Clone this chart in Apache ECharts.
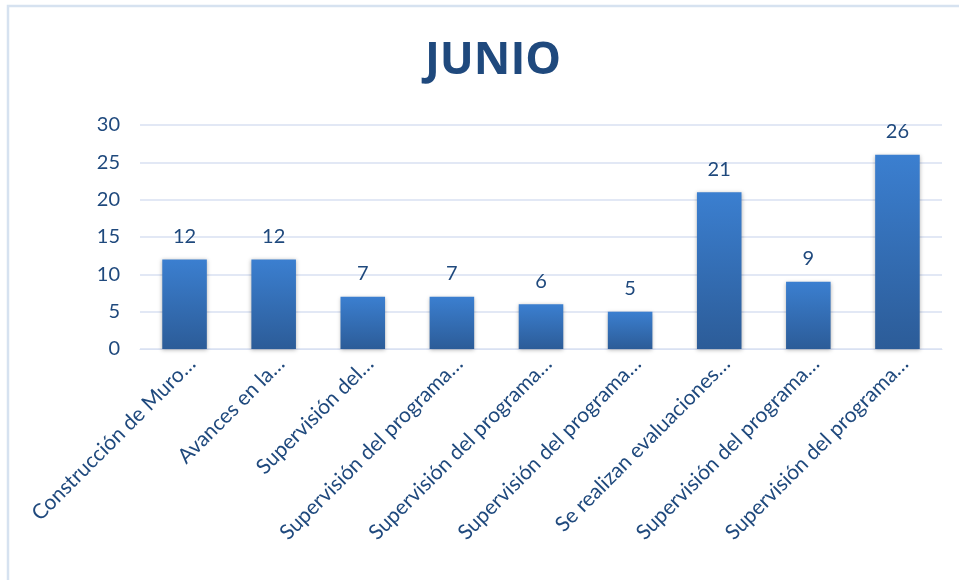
<!DOCTYPE html>
<html><head><meta charset="utf-8">
<script src="https://cdn.jsdelivr.net/npm/echarts@6/dist/echarts.min.js"></script>
<style>html,body{margin:0;padding:0;background:#fff;}#c{width:959px;height:580px;}</style>
</head><body><div id="c"></div>
<script>
const categories = ["Construcción de Muro…","Avances en la…","Supervisión del…","Supervisión del programa…","Supervisión del programa…","Supervisión del programa…","Se realizan evaluaciones…","Supervisión del programa…","Supervisión del programa…"];
const values = [12,12,7,7,6,5,21,9,26];
const yTicks = [0,5,10,15,20,25,30];
const titleText = "JUNIO";

const chart = echarts.init(document.getElementById('c'));
chart.setOption({
  animation:false,
  graphic:[{type:'rect',shape:{x:8,y:6,width:980,height:600},style:{fill:'none',stroke:'#D6E2F0',lineWidth:2.5}}],
  title:{text:titleText,left:488,textAlign:'center',top:34,textStyle:{fontFamily:'Open Sans',fontWeight:'bold',fontSize:45,color:'#1F497D'}},
  grid:{left:140,right:17,top:125,bottom:231},
  xAxis:{type:'category',data:categories,
    axisLine:{show:true,lineStyle:{color:'#D9E1F2'}},axisTick:{show:false},
    axisLabel:{rotate:45,interval:0,fontFamily:'Lato',fontSize:21,color:'#1F497D',margin:4,verticalAlign:'top'}},
  yAxis:{type:'value',min:yTicks[0],max:yTicks[yTicks.length-1],interval:5,
    axisLine:{show:false},axisTick:{show:false},
    splitLine:{lineStyle:{color:'#D9E1F2',width:1.5}},
    axisLabel:{fontFamily:'Lato',fontSize:20,color:'#1F497D',margin:20}},
  series:[{type:'bar',data:values,barWidth:'50%',
    itemStyle:{color:new echarts.graphic.LinearGradient(0,0,0,1,[{offset:0,color:'#3B7FD0'},{offset:1,color:'#2C5C98'}]),
      shadowColor:'rgba(0,0,0,0.3)',shadowBlur:4,shadowOffsetY:1},
    label:{show:true,position:'top',distance:13,fontFamily:'Lato',fontSize:20,color:'#1F497D'}}]
});
</script></body></html>
